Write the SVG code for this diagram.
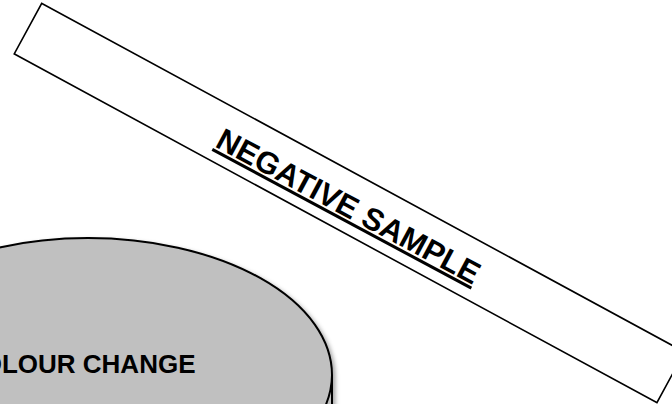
<svg xmlns="http://www.w3.org/2000/svg" width="672" height="404" viewBox="0 0 672 404">
  <defs>
    <filter id="shadow" x="-20%" y="-20%" width="140%" height="140%">
      <feDropShadow dx="2.5" dy="2.5" stdDeviation="2" flood-color="#000" flood-opacity="0.35"/>
    </filter>
  </defs>
  <style>
    .label { font-family: "Liberation Sans", Arial, sans-serif; font-weight: bold; fill: #000; }
    .strip { fill: #fff; stroke: #000; stroke-width: 1.6; }
    .disc { fill: #c0c0c0; stroke: #000; stroke-width: 2; }
  </style>

  <rect width="672" height="404" fill="#fff"/>

  <!-- test strip lying across the page -->
  <g id="negative-sample">
    <rect class="strip" x="0" y="0" width="731.2" height="57.6" transform="translate(41.7,3.3) rotate(28.48)"/>
    <text class="label" x="0" y="0" font-size="31" text-anchor="middle" text-decoration="underline" transform="translate(343.5,215.6) rotate(28.2)">NEGATIVE SAMPLE</text>
  </g>

  <!-- grey cylinder (top face plus side) -->
  <g id="colour-change">
    <g filter="url(#shadow)">
      <path class="disc" d="M -156 375 A 244 137 0 0 1 332 375 L 332 410 L -156 410 Z"/>
    </g>
    <path d="M 332 375 A 244 137 0 0 1 318 420" fill="none" stroke="#000" stroke-width="2"/>
    <text class="label" x="195.5" y="373.3" font-size="26" text-anchor="end">COLOUR CHANGE</text>
  </g>
</svg>
